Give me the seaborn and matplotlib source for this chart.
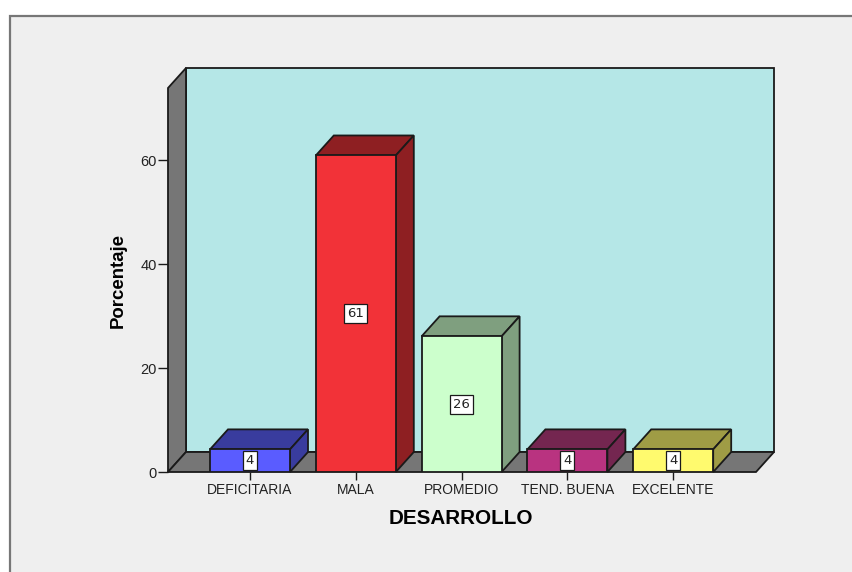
"""
Grafico de barras 3D: Porcentaje por DESARROLLO.
Las caras laterales y superiores se calculan a partir de las barras de seaborn.
"""
import matplotlib
matplotlib.use("Agg")
import matplotlib.pyplot as plt
from matplotlib.patches import Polygon, Rectangle
import pandas as pd
import seaborn as sns

# DATOS
categorias = ["DEFICITARIA", "MALA", "PROMEDIO", "TEND. BUENA", "EXCELENTE"]
porcentajes = [4.35, 60.87, 26.09, 4.35, 4.35]
etiquetas = ["4", "61", "26", "4", "4"]
ticks_y = [0, 20, 40, 60]

colores = ["#5A5CFF", "#F23238", "#CCFFCC", "#B93380", "#FFFA6E"]
colores_top = ["#393C9E", "#8E1F22", "#7F9F7F", "#742650", "#9F9C45"]

W, H = 853, 572
FONDO = "#EFEFEF"
PARED = "#B5E7E7"
GRIS = "#767676"
BORDE = "#1A1A1A"

# escala en pixeles del original
Y0_PX, PX_POR_UNIDAD = 472, 5.2
X0_PX, PX_POR_CAT = 250, 105.8
IZQ_PX, DER_PX, TOP_PX = 168, 756, 88
DX = 18 / PX_POR_CAT
DY = 20 / PX_POR_UNIDAD

sns.set_style("white")
plt.rcParams["font.family"] = ["Liberation Sans", "DejaVu Sans"]

fig = plt.figure(figsize=(W / 100, H / 100), dpi=100, facecolor="white")
fig.add_artist(Rectangle((10 / W, -0.02), 1, 1.02 - 16 / H, transform=fig.transFigure,
                         facecolor=FONDO, edgecolor="#777777", linewidth=1.6, zorder=-1))

ax = fig.add_axes([IZQ_PX / W, 1 - Y0_PX / H, (DER_PX - IZQ_PX) / W, (Y0_PX - TOP_PX) / H])
ax.patch.set_visible(False)

df = pd.DataFrame({"DESARROLLO": categorias, "Porcentaje": porcentajes})
sns.barplot(data=df, x="DESARROLLO", y="Porcentaje", hue="DESARROLLO", palette=colores,
            legend=False, width=80 / PX_POR_CAT, saturation=1, edgecolor=BORDE,
            linewidth=1.3, ax=ax, zorder=5)

xmin = (IZQ_PX - X0_PX) / PX_POR_CAT
xmax = (DER_PX - X0_PX) / PX_POR_CAT
ymax = (Y0_PX - TOP_PX) / PX_POR_UNIDAD
ax.set_xlim(xmin, xmax)
ax.set_ylim(0, ymax)


def cara(puntos, color, z=1):
    ax.add_patch(Polygon(puntos, closed=True, facecolor=color, edgecolor=BORDE,
                         linewidth=1.3, clip_on=False, zorder=z))


barras = list(ax.patches[:len(categorias)])

# paredes y piso
cara([(xmin + DX, DY), (xmax + DX, DY), (xmax + DX, ymax + DY), (xmin + DX, ymax + DY)], PARED)
cara([(xmin, 0), (xmin + DX, DY), (xmin + DX, ymax + DY), (xmin, ymax)], GRIS)
cara([(xmin, 0), (xmax, 0), (xmax + DX, DY), (xmin + DX, DY)], GRIS)

# caras 3D de cada barra
for barra, oscuro, etiqueta in zip(barras, colores_top, etiquetas):
    x0 = barra.get_x()
    x1 = x0 + barra.get_width()
    alto = barra.get_height()
    cara([(x0, alto), (x1, alto), (x1 + DX, alto + DY), (x0 + DX, alto + DY)], oscuro, 4)
    cara([(x1, 0), (x1 + DX, DY), (x1 + DX, alto + DY), (x1, alto)], oscuro, 4)
    ax.text((x0 + x1) / 2, alto / 2, etiqueta, ha="center", va="center", fontsize=9.5,
            family="DejaVu Sans", color="#222222", zorder=6,
            bbox=dict(boxstyle="square,pad=0.22", facecolor="white", edgecolor=BORDE, linewidth=0.9))

# ejes
for lado in ["top", "right", "bottom", "left"]:
    ax.spines[lado].set_visible(False)
ax.set_yticks(ticks_y)
ax.set_xticks(range(len(categorias)))
ax.set_xticklabels(categorias)
ax.tick_params(axis="x", length=6, width=1, color=BORDE, labelsize=10, pad=2, labelcolor="#222222", bottom=True)
ax.tick_params(axis="y", length=7.5, width=1, color=BORDE, labelsize=10.5, pad=0.5, labelcolor="#222222", left=True)
ax.set_xlabel("DESARROLLO", fontsize=14.9, fontweight="bold", color="black")
ax.set_ylabel("Porcentaje", fontsize=13.4, fontweight="bold", color="black")
ax.xaxis.set_label_coords((461 - IZQ_PX) / (DER_PX - IZQ_PX), -(518 - Y0_PX) / (Y0_PX - TOP_PX))
ax.xaxis.label.set_va("center")
ax.yaxis.set_label_coords((118 - IZQ_PX) / (DER_PX - IZQ_PX), (Y0_PX - 281) / (Y0_PX - TOP_PX))
ax.yaxis.label.set_va("center")

fig.savefig("out.png", dpi=100, facecolor="white")
